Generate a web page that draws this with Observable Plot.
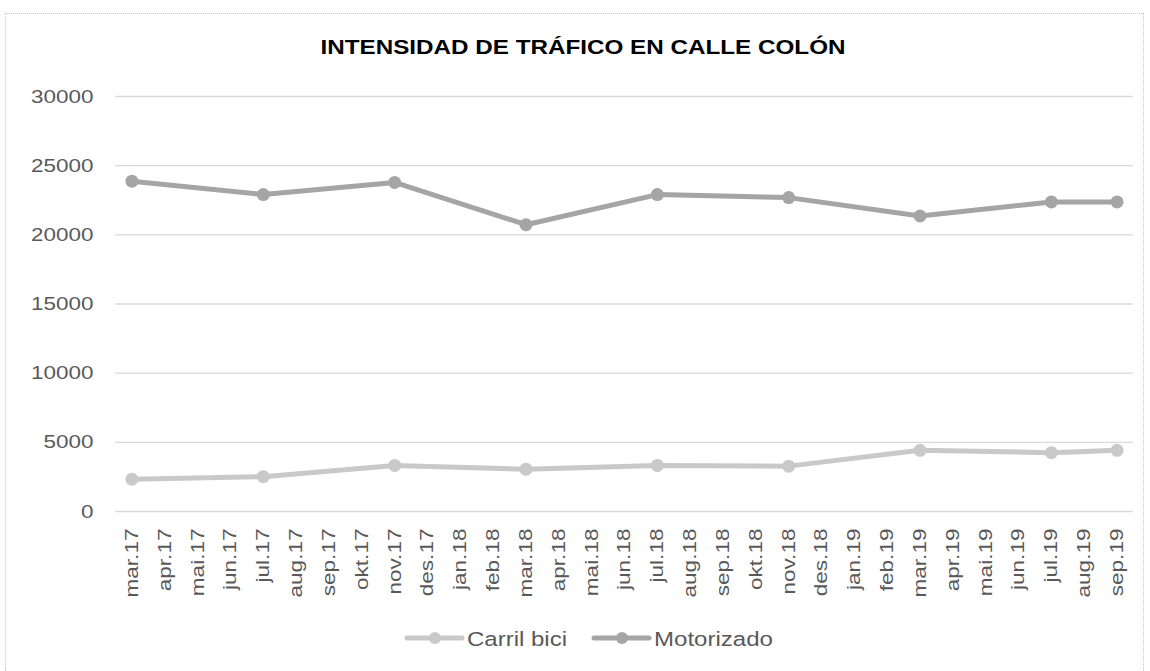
<!DOCTYPE html>
<html>
<head>
<meta charset="utf-8">
<script src="https://cdn.jsdelivr.net/npm/d3@7"></script>
<script src="https://cdn.jsdelivr.net/npm/@observablehq/plot@0.6"></script>
<style>
  html, body { margin: 0; padding: 0; background: #fff; overflow: hidden; }
  #frame { position: absolute; left: 5px; top: 13px; width: 1139px; height: 700px; border: 1px dotted #c8c8c8; box-sizing: border-box; }
  #chart { position: absolute; left: 0; top: 0; }
  #overlay { position: absolute; left: 0; top: 0; pointer-events: none; }
</style>
</head>
<body>
<div id="frame"></div>
<div id="chart"></div>
<svg id="overlay" width="1150" height="671"></svg>
<script>
const title = "INTENSIDAD DE TRÁFICO EN CALLE COLÓN";
const months = ["mar.17","apr.17","mai.17","jun.17","jul.17","aug.17","sep.17","okt.17","nov.17","des.17",
  "jan.18","feb.18","mar.18","apr.18","mai.18","jun.18","jul.18","aug.18","sep.18","okt.18","nov.18","des.18",
  "jan.19","feb.19","mar.19","apr.19","mai.19","jun.19","jul.19","aug.19","sep.19"];
const dataMonths = ["mar.17","jul.17","nov.17","mar.18","jul.18","nov.18","mar.19","jul.19","sep.19"];
const carrilBici = [2330, 2520, 3330, 3060, 3330, 3280, 4420, 4250, 4420];
const motorizado = [23880, 22910, 23790, 20730, 22910, 22690, 21360, 22380, 22380];
const seriesNames = ["Carril bici", "Motorizado"];
const seriesColors = ["#c9c9c9", "#a5a5a5"];
const yTicks = [0, 5000, 10000, 15000, 20000, 25000, 30000];

const rows = [];
dataMonths.forEach((m, i) => {
  rows.push({month: m, value: carrilBici[i], series: seriesNames[0]});
  rows.push({month: m, value: motorizado[i], series: seriesNames[1]});
});

const font = "'Liberation Sans', Arial, sans-serif";

const chart = Plot.plot({
  width: 1150,
  height: 671,
  marginLeft: 115,
  marginRight: 17,
  marginTop: 96,
  marginBottom: 160,
  style: {fontFamily: font, color: "#595959", background: "transparent", overflow: "visible"},
  x: {type: "point", domain: months, padding: 0.5, round: false, label: null},
  y: {domain: [0, 30000], label: null},
  color: {domain: seriesNames, range: seriesColors},
  marks: [
    Plot.gridY(yTicks, {stroke: "#d9d9d9", strokeOpacity: 1, strokeWidth: 1.3}),
    Plot.axisY(yTicks, {tickSize: 0, tickPadding: 22, fontSize: 19, fill: "#595959", tickFormat: d3.format("d"), label: null}),
    Plot.axisX(months, {tickSize: 0, tickPadding: 17, tickRotate: -90, fontSize: 18.5, fill: "#595959", label: null}),
    Plot.line(rows, {x: "month", y: "value", z: "series", stroke: "series", strokeWidth: 5, strokeLinejoin: "round", strokeLinecap: "round"}),
    Plot.dot(rows, {x: "month", y: "value", fill: "series", r: 6.5, stroke: "none"})
  ]
});
document.getElementById("chart").appendChild(chart);

// widen tick labels to match the reference glyph proportions
function stretch(sel, k) {
  chart.querySelectorAll(sel).forEach(t => {
    const len = t.getComputedTextLength();
    t.setAttribute("textLength", (len * k).toFixed(1));
    t.setAttribute("lengthAdjust", "spacingAndGlyphs");
  });
}
stretch('[aria-label="y-axis tick label"] text', 1.18);
stretch('[aria-label="x-axis tick label"] text', 1.22);

// title and legend
const ov = d3.select("#overlay");
ov.append("text")
  .attr("x", 583).attr("y", 54)
  .attr("text-anchor", "middle")
  .attr("font-family", font).attr("font-weight", "bold").attr("font-size", 19.5)
  .attr("fill", "#000")
  .attr("textLength", 525).attr("lengthAdjust", "spacingAndGlyphs")
  .text(title);

const legendItems = [
  {x0: 407, name: seriesNames[0], color: seriesColors[0], textLen: 100},
  {x0: 594, name: seriesNames[1], color: seriesColors[1], textLen: 119}
];
legendItems.forEach(it => {
  const g = ov.append("g");
  g.append("line").attr("x1", it.x0).attr("x2", it.x0 + 55).attr("y1", 638).attr("y2", 638)
    .attr("stroke", it.color).attr("stroke-width", 5).attr("stroke-linecap", "round");
  g.append("circle").attr("cx", it.x0 + 28).attr("cy", 638).attr("r", 6).attr("fill", it.color);
  g.append("text").attr("x", it.x0 + 60).attr("y", 645.5)
    .attr("font-family", font).attr("font-size", 20.5).attr("fill", "#595959")
    .attr("textLength", it.textLen).attr("lengthAdjust", "spacingAndGlyphs")
    .text(it.name);
});
</script>
</body>
</html>
